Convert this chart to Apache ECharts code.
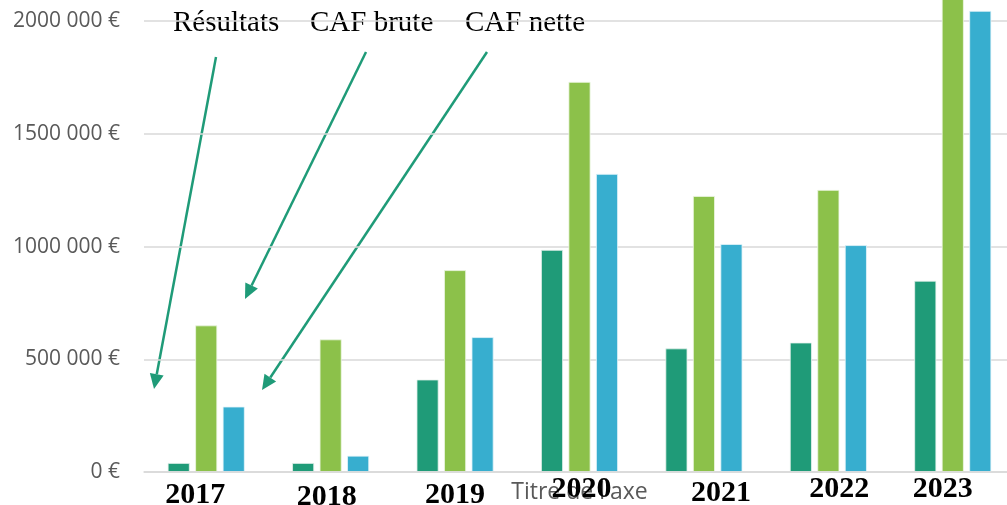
<!DOCTYPE html>
<html>
<head>
<meta charset="utf-8">
<script src="https://cdn.jsdelivr.net/npm/echarts@6/dist/echarts.min.js"></script>
<style>
  html, body { margin: 0; padding: 0; background: #fff; }
  #chart { width: 1007px; height: 505px; }
</style>
</head>
<body>
<div id="chart"></div>
<script>
var years = ['2017', '2018', '2019', '2020', '2021', '2022', '2023'];
var resultats = [40000, 40000, 410000, 985000, 548000, 574000, 848000];
var cafBrute = [650000, 588000, 895000, 1730000, 1224000, 1251000, 2150000];
var cafNette = [290000, 72000, 598000, 1322000, 1011000, 1006000, 2045000];
var yTickLabels = ['0 €', '500 000 €', '1000 000 €', '1500 000 €', '2000 000 €'];

// the year labels are hand-placed text boxes in the original, so each one is a bit off
var labelShift = {
    '2017': [-11, 3], '2018': [-4, 4], '2019': [0, 3], '2020': [2, 0],
    '2021': [17, 2], '2022': [11, -2], '2023': [-10, -3]
};

var green = '#1f9b78';

function arrow(x1, y1, x2, y2) {
    var dx = x2 - x1, dy = y2 - y1;
    var len = Math.sqrt(dx * dx + dy * dy);
    var ux = dx / len, uy = dy / len;
    var hl = 15, hw = 7;
    var bx = x2 - ux * hl, by = y2 - uy * hl;
    return [
        {
            type: 'line',
            shape: { x1: x1, y1: y1, x2: bx, y2: by },
            style: { stroke: green, lineWidth: 2.5 }
        },
        {
            type: 'polygon',
            shape: { points: [[x2, y2], [bx - uy * hw, by + ux * hw], [bx + uy * hw, by - ux * hw]] },
            style: { fill: green }
        }
    ];
}

function note(text, x) {
    return {
        type: 'text',
        left: x,
        top: 9,
        style: { text: text, font: '29px "Liberation Serif", "Times New Roman", serif', fill: '#000' }
    };
}

var rich = {};
years.forEach(function (y) {
    var s = labelShift[y];
    rich['y' + y] = {
        fontFamily: '"Liberation Serif", "Times New Roman", serif',
        fontWeight: 'bold',
        fontSize: 30,
        color: '#000',
        padding: [s[1] > 0 ? s[1] * 2 : 0, s[0] < 0 ? -s[0] * 2 : 0, s[1] < 0 ? -s[1] * 2 : 0, s[0] > 0 ? s[0] * 2 : 0]
    };
});

var chart = echarts.init(document.getElementById('chart'));
var option = {
    animation: false,
    grid: { left: 144, width: 871, top: -1.5, bottom: 33, outerBoundsMode: 'none' },
    xAxis: {
        type: 'category',
        data: years,
        name: "Titre de l'axe",
        nameLocation: 'middle',
        nameGap: 9,
        nameMoveOverlap: false,
        nameTextStyle: { fontFamily: '"Open Sans", sans-serif', fontSize: 23, color: '#595959' },
        axisLine: { lineStyle: { color: '#d9d9d9', width: 1.5 } },
        axisTick: { show: false },
        axisLabel: {
            margin: 2,
            interval: 0,
            formatter: function (v) { return '{y' + v + '|' + v + '}'; },
            rich: rich
        },
        z: 5
    },
    yAxis: {
        type: 'value',
        min: 0,
        max: 2100000,
        interval: 500000,
        axisLine: { show: false },
        axisTick: { show: false },
        axisLabel: {
            margin: 24,
            fontFamily: '"Open Sans", sans-serif',
            fontSize: 21,
            color: '#595959',
            formatter: function (v) {
                var i = v / 500000;
                return i === Math.round(i) ? yTickLabels[i] : '';
            }
        },
        splitLine: { lineStyle: { color: '#d9d9d9', width: 1.5 } }
    },
    series: [
        { name: 'Résultats', type: 'bar', data: resultats, barWidth: 22, barGap: '25%',
          itemStyle: { color: green, borderColor: '#e8f3ee', borderWidth: 0.8 } },
        { name: 'CAF brute', type: 'bar', data: cafBrute, barWidth: 22, barGap: '25%',
          itemStyle: { color: '#8cc14a', borderColor: '#eef6e4', borderWidth: 0.8 } },
        { name: 'CAF nette', type: 'bar', data: cafNette, barWidth: 22, barGap: '25%',
          itemStyle: { color: '#37aecf', borderColor: '#e6f5fa', borderWidth: 0.8 } }
    ],
    graphic: [
        note('Résultats', 173),
        note('CAF brute', 310),
        note('CAF nette', 465)
    ].concat(arrow(216, 57, 154, 389), arrow(366, 52, 245, 299), arrow(487, 52, 262, 390))
};
chart.setOption(option);
</script>
</body>
</html>
